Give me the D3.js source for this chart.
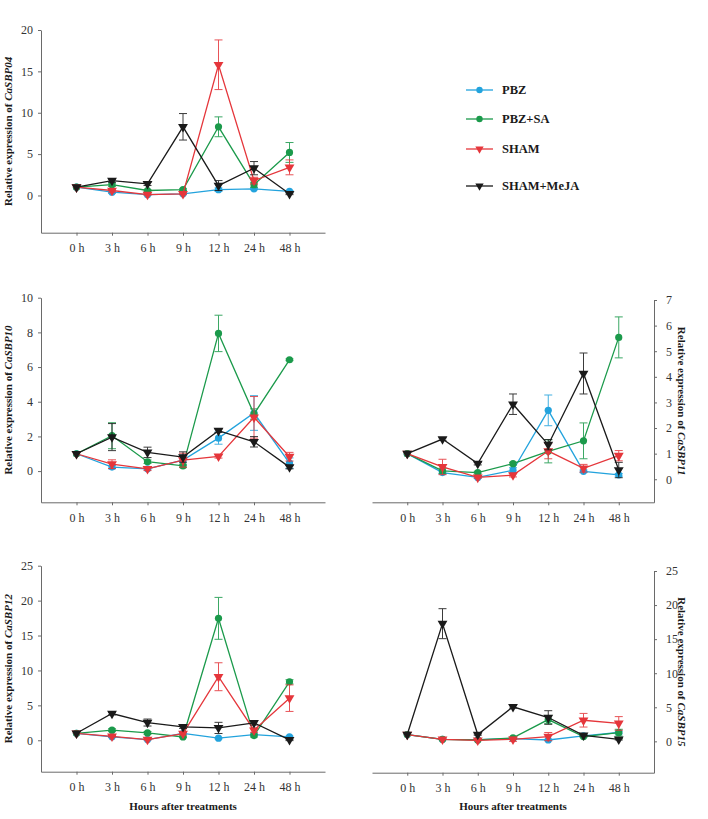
<!DOCTYPE html>
<html><head><meta charset="utf-8">
<script src="https://cdn.jsdelivr.net/npm/d3@7"></script>
<style>body{margin:0;background:#fff}svg{display:block}</style>
</head><body>
<svg id="c" width="708" height="819"></svg>
<script>
const timepoints = ["0 h","3 h","6 h","9 h","12 h","24 h","48 h"];
const seriesNames = ["PBZ","PBZ+SA","SHAM","SHAM+MeJA"];
const seriesColors = ["#23a3dd","#1b9a4b","#e5363b","#1a1a1a"];
const seriesShapes = ["circle","circle","triangle","triangle"];

// CaSBP04
const sbp04_PBZ = [1,0.4,0.1,0.2,0.7,0.8,0.5];
const sbp04_PBZ_err = [0,0.15,0.05,0.05,0.2,0.1,0.1];
const sbp04_PBZSA = [1,1.3,0.6,0.7,8.3,1.3,5.2];
const sbp04_PBZSA_err = [0,0.2,0.1,0.1,1.2,0.3,1.2];
const sbp04_SHAM = [1,0.6,0.1,0.2,15.8,1.8,3.4];
const sbp04_SHAM_err = [0,0.2,0.05,0.1,3.0,0.4,0.9];
const sbp04_MeJA = [1,1.8,1.4,8.3,1.2,3.3,0.2];
const sbp04_MeJA_err = [0,0.2,0.2,1.6,0.6,0.8,0.1];

// CaSBP10
const sbp10_PBZ = [1,0.23,0.13,0.63,1.9,3.35,0.46];
const sbp10_PBZ_err = [0,0.1,0.05,0.3,0.35,1.0,0.3];
const sbp10_PBZSA = [1,2.04,0.54,0.3,7.94,3.29,6.42];
const sbp10_PBZSA_err = [0,0.75,0.1,0.1,1.05,0.3,0.05];
const sbp10_SHAM = [1,0.4,0.13,0.63,0.85,3.1,0.83];
const sbp10_SHAM_err = [0,0.25,0.1,0.4,0.1,1.2,0.25];
const sbp10_MeJA = [1,1.96,1.08,0.81,2.33,1.69,0.23];
const sbp10_MeJA_err = [0,0.78,0.3,0.3,0.1,0.3,0.1];

// CaSBP11
const sbp11_PBZ = [1,0.26,0.07,0.35,2.69,0.31,0.17];
const sbp11_PBZ_err = [0,0.05,0.03,0.1,0.6,0.05,0.05];
const sbp11_PBZSA = [1,0.33,0.26,0.61,1.09,1.5,5.54];
const sbp11_PBZSA_err = [0,0.1,0.05,0.05,0.45,0.7,0.8];
const sbp11_SHAM = [1,0.48,0.07,0.16,1.1,0.43,0.92];
const sbp11_SHAM_err = [0,0.3,0.03,0.07,0.3,0.15,0.2];
const sbp11_MeJA = [1,1.57,0.61,2.93,1.35,4.13,0.36];
const sbp11_MeJA_err = [0,0.05,0.05,0.4,0.2,0.8,0.3];

// CaSBP12
const sbp12_PBZ = [1,0.5,0.1,1.0,0.3,0.8,0.5];
const sbp12_PBZ_err = [0,0.1,0.05,0.1,0.1,0.1,0.1];
const sbp12_PBZSA = [1,1.44,1.05,0.48,17.46,0.67,8.37];
const sbp12_PBZSA_err = [0,0.2,0.2,0.1,3.0,0.2,0.3];
const sbp12_SHAM = [1,0.57,0.1,0.96,9.1,1.44,6.03];
const sbp12_SHAM_err = [0,0.1,0.05,0.2,2.0,0.3,1.9];
const sbp12_MeJA = [1,3.83,2.54,1.91,1.77,2.49,0.05];
const sbp12_MeJA_err = [0,0.2,0.5,0.2,0.8,0.3,0.1];

// CaSBP15
const sbp15_PBZ = [1,0.3,0.25,0.4,0.2,0.8,1.3];
const sbp15_PBZ_err = [0,0.05,0.05,0.1,0.1,0.1,0.2];
const sbp15_PBZSA = [1,0.3,0.2,0.5,3.2,0.7,1.27];
const sbp15_PBZSA_err = [0,0.05,0.05,0.1,0.6,0.1,0.5];
const sbp15_SHAM = [1,0.3,0.15,0.3,0.7,3.1,2.63];
const sbp15_SHAM_err = [0,0.05,0.05,0.3,0.6,1.0,1.0];
const sbp15_MeJA = [1,17.27,1.0,5.07,3.5,0.88,0.3];
const sbp15_MeJA_err = [0,2.2,0.1,0.2,1.0,0.1,0.1];

const yTicks04 = [0,5,10,15,20];
const yTicks10 = [0,2,4,6,8,10];
const yTicks11 = [0,1,2,3,4,5,6,7];
const yTicks12 = [0,5,10,15,20,25];
const yTicks15 = [0,5,10,15,20,25];

const panels = [
  {gene:"CaSBP04", vals:[sbp04_PBZ,sbp04_PBZSA,sbp04_SHAM,sbp04_MeJA], errs:[sbp04_PBZ_err,sbp04_PBZSA_err,sbp04_SHAM_err,sbp04_MeJA_err],
   ticks:yTicks04, ydom:[-4.5,20], x:[41,325], y:[232.7,30], side:"left", xlabel:false},
  {gene:"CaSBP10", vals:[sbp10_PBZ,sbp10_PBZSA,sbp10_SHAM,sbp10_MeJA], errs:[sbp10_PBZ_err,sbp10_PBZSA_err,sbp10_SHAM_err,sbp10_MeJA_err],
   ticks:yTicks10, ydom:[-1.8,10], x:[41,325], y:[502.3,297.7], side:"left", xlabel:false},
  {gene:"CaSBP11", vals:[sbp11_PBZ,sbp11_PBZSA,sbp11_SHAM,sbp11_MeJA], errs:[sbp11_PBZ_err,sbp11_PBZSA_err,sbp11_SHAM_err,sbp11_MeJA_err],
   ticks:yTicks11, ydom:[-0.9,7], x:[372,654], y:[502.3,300], side:"right", xlabel:false},
  {gene:"CaSBP12", vals:[sbp12_PBZ,sbp12_PBZSA,sbp12_SHAM,sbp12_MeJA], errs:[sbp12_PBZ_err,sbp12_PBZSA_err,sbp12_SHAM_err,sbp12_MeJA_err],
   ticks:yTicks12, ydom:[-4.5,25], x:[41,325], y:[771.7,565.7], side:"left", xlabel:true},
  {gene:"CaSBP15", vals:[sbp15_PBZ,sbp15_PBZSA,sbp15_SHAM,sbp15_MeJA], errs:[sbp15_PBZ_err,sbp15_PBZSA_err,sbp15_SHAM_err,sbp15_MeJA_err],
   ticks:yTicks15, ydom:[-4.6,25], x:[372,654], y:[772.7,571], side:"right", xlabel:true}
];

const svg = d3.select("#c");
const FONT = "'Liberation Serif','Times New Roman',serif";
const axisColor = "#6a6a6a";
const tri = d3.symbol().type(d3.symbolTriangle).size(42);
const triSmall = d3.symbol().type(d3.symbolTriangle).size(30);

function drawMarker(g, shape, color, x, y, small){
  if (shape === "circle") {
    g.append("circle").attr("cx", x).attr("cy", y).attr("r", small ? 3.2 : 3.6).attr("fill", color);
  } else {
    g.append("path").attr("d", small ? triSmall() : tri())
      .attr("transform", `translate(${x},${y}) rotate(180)`).attr("fill", color);
  }
}

panels.forEach(p => {
  const xs = d3.scalePoint().domain(timepoints).range(p.x).padding(1);
  const ys = d3.scaleLinear().domain(p.ydom).range(p.y);
  const g = svg.append("g");

  const xa = g.append("g").attr("transform", `translate(0,${p.y[0]})`)
    .call(d3.axisBottom(xs).tickSize(3).tickSizeOuter(0).tickPadding(8));
  const axisX = p.side === "left" ? p.x[0] : p.x[1];
  const yAxisGen = (p.side === "left" ? d3.axisLeft(ys).tickPadding(5) : d3.axisRight(ys).tickPadding(9))
    .tickValues(p.ticks).tickSize(3).tickSizeOuter(0).tickFormat(d3.format("d"));
  const ya = g.append("g").attr("transform", `translate(${axisX},0)`).call(yAxisGen);
  [xa, ya].forEach(a => {
    a.selectAll("path,line").attr("stroke", axisColor).attr("stroke-width", 1);
    a.selectAll("text").attr("fill", "#333").style("font-family", FONT).style("font-size", "12px");
  });

  const cy = (p.y[0] + p.y[1]) / 2;
  const lbl = g.append("text").style("font-family", FONT).style("font-size", "11px")
    .style("font-weight", "bold").attr("fill", "#1a1a1a").attr("text-anchor", "middle");
  if (p.side === "left") lbl.attr("transform", `translate(12,${cy}) rotate(-90)`);
  else lbl.attr("transform", `translate(678,${cy}) rotate(90)`);
  lbl.append("tspan").text("Relative expression of ");
  lbl.append("tspan").style("font-style", "italic").text(p.gene);

  if (p.xlabel) {
    g.append("text").attr("x", (p.x[0] + p.x[1]) / 2).attr("y", 810)
      .attr("text-anchor", "middle").style("font-family", FONT).style("font-size", "11px")
      .style("font-weight", "bold").attr("fill", "#1a1a1a").text("Hours after treatments");
  }

  p.vals.forEach((vals, si) => {
    const color = seriesColors[si];
    const errs = p.errs[si];
    const sg = g.append("g");
    vals.forEach((v, i) => {
      const e = errs[i];
      if (!e) return;
      const x = xs(timepoints[i]);
      const eg = sg.append("g").attr("stroke", color).attr("stroke-width", 1).attr("opacity", 0.85);
      eg.append("line").attr("x1", x).attr("x2", x).attr("y1", ys(v - e)).attr("y2", ys(v + e));
      eg.append("line").attr("x1", x - 4).attr("x2", x + 4).attr("y1", ys(v + e)).attr("y2", ys(v + e));
      eg.append("line").attr("x1", x - 4).attr("x2", x + 4).attr("y1", ys(v - e)).attr("y2", ys(v - e));
    });
    const line = d3.line().x((d, i) => xs(timepoints[i])).y(d => ys(d));
    sg.append("path").datum(vals).attr("d", line).attr("fill", "none")
      .attr("stroke", color).attr("stroke-width", 1.3);
    vals.forEach((v, i) => drawMarker(sg, seriesShapes[si], color, xs(timepoints[i]), ys(v), false));
  });
});

const legendY = [90, 119, 149, 186];
seriesNames.forEach((name, i) => {
  const lg = svg.append("g");
  const y = legendY[i];
  lg.append("line").attr("x1", 466).attr("x2", 493).attr("y1", y).attr("y2", y)
    .attr("stroke", seriesColors[i]).attr("stroke-width", 1.3);
  drawMarker(lg, seriesShapes[i], seriesColors[i], 479.5, y, true);
  lg.append("text").attr("x", 502).attr("y", y).attr("dy", "0.35em")
    .style("font-family", FONT).style("font-size", "12.5px").style("font-weight", "bold")
    .attr("fill", "#1a1a1a").text(name);
});
</script>
</body></html>
